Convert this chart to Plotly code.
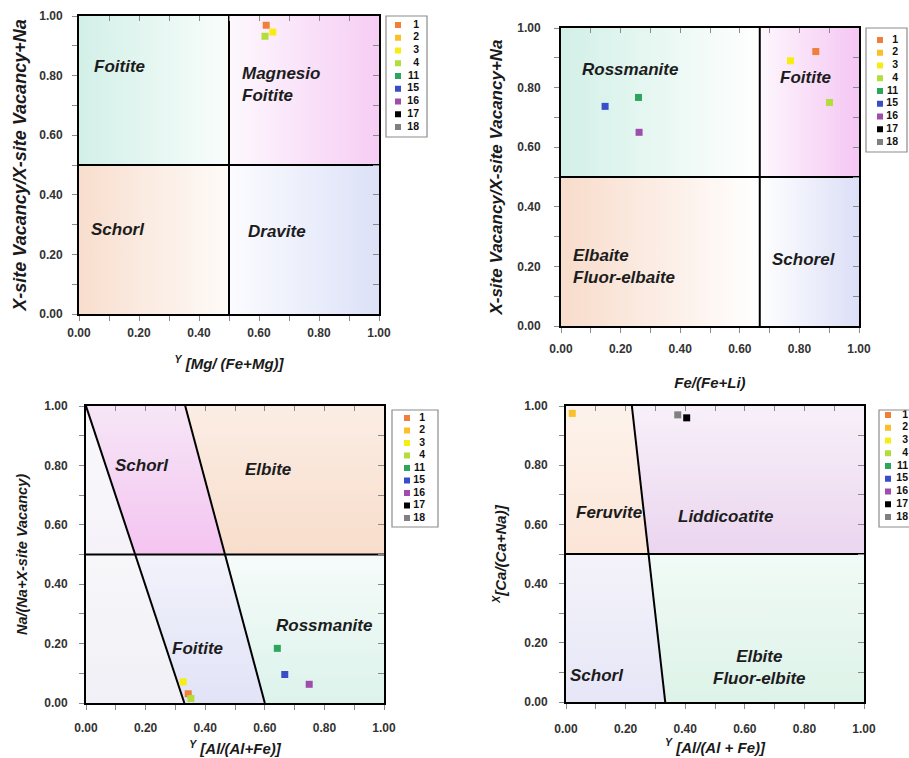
import plotly.graph_objects as go

W, H = 909, 758
FONT = "Liberation Sans, Arial, sans-serif"

# ---------------- data ----------------
samples = ["1", "2", "3", "4", "11", "15", "16", "17", "18"]
sample_colors = ["#F07F3A", "#FBBF2A", "#F6EE12", "#B3DD3A", "#2DA55A",
                 "#3A4DC8", "#9F4CAA", "#000000", "#808080"]

# Panel 1: Y[Mg/(Fe+Mg)] vs X-site vacancy/(X-site vacancy+Na)
p1_samples = ["1", "3", "4"]
p1_x = [0.624, 0.646, 0.620]
p1_y = [0.969, 0.946, 0.932]

# Panel 2: Fe/(Fe+Li) vs X-site vacancy/(X-site vacancy+Na)
p2_samples = ["1", "3", "4", "11", "15", "16"]
p2_x = [0.855, 0.770, 0.901, 0.260, 0.148, 0.262]
p2_y = [0.921, 0.890, 0.750, 0.767, 0.737, 0.650]

# Panel 3: Y[Al/(Al+Fe)] vs Na/(Na+X-site vacancy)
p3_samples = ["3", "1", "4", "11", "15", "16"]
p3_x = [0.326, 0.343, 0.352, 0.642, 0.667, 0.749]
p3_y = [0.071, 0.031, 0.015, 0.184, 0.096, 0.063]

# Panel 4: Y[Al/(Al+Fe)] vs X[Ca/(Ca+Na)]
p4_samples = ["2", "18", "17"]
p4_x = [0.021, 0.375, 0.405]
p4_y = [0.975, 0.970, 0.960]

tick_vals = [0.0, 0.2, 0.4, 0.6, 0.8, 1.0]
tick_text = ["0.00", "0.20", "0.40", "0.60", "0.80", "1.00"]

# field boundaries
p1_vx, p1_hy = 0.5, 0.5
p2_vx, p2_hy = 0.667, 0.5
p3_l1_top, p3_l1_bot = 0.0, 0.33
p3_l2_top, p3_l2_bot = 0.333, 0.60
p3_hy = 0.5
p4_l_top, p4_l_bot = 0.221, 0.333
p4_hy = 0.5

color_of = dict(zip(samples, sample_colors))


def dom_x(a, b):
    return [a / W, b / W]


def dom_y(top, bottom):
    return [1 - bottom / H, 1 - top / H]


def slant(top, bot):
    return lambda y: top + (bot - top) * (1 - y)


fig = go.Figure()


def add_field(xa, ya, xs, ys, gtype, c0, c1):
    fig.add_trace(go.Scatter(
        x=xs + [xs[0]], y=ys + [ys[0]], mode="lines", line=dict(width=0),
        fill="toself",
        fillgradient=dict(type=gtype, colorscale=[[0, c0], [1, c1]]),
        hoverinfo="skip", showlegend=False, xaxis=xa, yaxis=ya))


def add_line(xa, ya, xs, ys):
    fig.add_trace(go.Scatter(
        x=xs, y=ys, mode="lines", line=dict(color="black", width=2),
        hoverinfo="skip", showlegend=False, xaxis=xa, yaxis=ya))


# ---- panel 1 fields
add_field("x", "y", [0, p1_vx, p1_vx, 0], [p1_hy, p1_hy, 1, 1], "horizontal", "#D2F0E7", "#F9FDFC")
add_field("x", "y", [p1_vx, 1, 1, p1_vx], [p1_hy, p1_hy, 1, 1], "horizontal", "#FDF8FE", "#F6CDF4")
add_field("x", "y", [0, p1_vx, p1_vx, 0], [0, 0, p1_hy, p1_hy], "horizontal", "#F8DECE", "#FEFBF8")
add_field("x", "y", [p1_vx, 1, 1, p1_vx], [0, 0, p1_hy, p1_hy], "horizontal", "#FCFCFF", "#DCE1F7")
add_line("x", "y", [p1_vx, p1_vx], [0, 1])
add_line("x", "y", [0, 1], [p1_hy, p1_hy])

# ---- panel 2 fields
add_field("x2", "y2", [0, p2_vx, p2_vx, 0], [p2_hy, p2_hy, 1, 1], "horizontal", "#D2F0E7", "#FFFFFF")
add_field("x2", "y2", [p2_vx, 1, 1, p2_vx], [p2_hy, p2_hy, 1, 1], "horizontal", "#FDF7FD", "#F5C6F3")
add_field("x2", "y2", [0, p2_vx, p2_vx, 0], [0, 0, p2_hy, p2_hy], "horizontal", "#F8DCCB", "#FFFFFF")
add_field("x2", "y2", [p2_vx, 1, 1, p2_vx], [0, 0, p2_hy, p2_hy], "horizontal", "#FFFFFF", "#DCDFF7")
add_line("x2", "y2", [p2_vx, p2_vx], [0, 1])
add_line("x2", "y2", [0, 1], [p2_hy, p2_hy])

# ---- panel 3 fields
f1 = slant(p3_l1_top, p3_l1_bot)
f2 = slant(p3_l2_top, p3_l2_bot)
h = p3_hy
add_field("x3", "y3", [f1(1), f1(h), 0, 0], [1, h, h, 1], "vertical", "#F5F3F9", "#F9F8FB")
add_field("x3", "y3", [f1(1), f2(1), f2(h), f1(h)], [1, 1, h, h], "vertical", "#F4C4F1", "#F6E6F6")
add_field("x3", "y3", [f2(1), 1, 1, f2(h)], [1, 1, h, h], "vertical", "#F8DDCB", "#FBEDE4")
add_field("x3", "y3", [0, f1(h), f1(0), 0], [h, h, 0, 0], "vertical", "#F0F0F6", "#F7F7FA")
add_field("x3", "y3", [f1(h), f2(h), f2(0), f1(0)], [h, h, 0, 0], "vertical", "#E2E3F7", "#F1F2FA")
add_field("x3", "y3", [f2(h), 1, 1, f2(0)], [h, h, 0, 0], "vertical", "#DCF3EB", "#F6FBFA")
add_line("x3", "y3", [f1(1), f1(0)], [1, 0])
add_line("x3", "y3", [f2(1), f2(0)], [1, 0])
add_line("x3", "y3", [0, 1], [h, h])

# ---- panel 4 fields
f4 = slant(p4_l_top, p4_l_bot)
h4 = p4_hy
add_field("x4", "y4", [0, f4(1), f4(h4), 0], [1, 1, h4, h4], "vertical", "#FBE5D7", "#FDF3EC")
add_field("x4", "y4", [f4(1), 1, 1, f4(h4)], [1, 1, h4, h4], "vertical", "#EBD5EF", "#F7F0F9")
add_field("x4", "y4", [0, f4(h4), f4(0), 0], [h4, h4, 0, 0], "vertical", "#E6E6F7", "#F4F3FA")
add_field("x4", "y4", [f4(h4), 1, 1, f4(0)], [h4, h4, 0, 0], "vertical", "#DDF3E8", "#F1FAF6")
add_line("x4", "y4", [f4(1), f4(0)], [1, 0])
add_line("x4", "y4", [0, 1], [h4, h4])

# ---- data points
for xa, ya, ss, xs, ys in [("x", "y", p1_samples, p1_x, p1_y),
                           ("x2", "y2", p2_samples, p2_x, p2_y),
                           ("x3", "y3", p3_samples, p3_x, p3_y),
                           ("x4", "y4", p4_samples, p4_x, p4_y)]:
    fig.add_trace(go.Scatter(
        x=xs, y=ys, mode="markers", text=ss,
        marker=dict(symbol="square", size=7, color=[color_of[s] for s in ss]),
        hovertemplate="Sample %{text}<br>%{x:.2f}, %{y:.2f}<extra></extra>",
        showlegend=False, xaxis=xa, yaxis=ya))

# ---- panel layout (pixel boxes)
panels = [
    dict(n="", box=(79, 379, 16, 314),
         xtitle="<sup>Y</sup> [Mg/ (Fe+Mg)]", xts=15, xls=2, xst=19,
         ytitle="X-site Vacancy/X-site Vacancy+Na", yts=18, yls=7, yst=8,
         leg=(386, 427, 16, 137, 25, 127, 398, 419)),
    dict(n="2", box=(561, 859, 28, 326),
         xtitle="Fe/(Fe+Li)", xts=15, xls=6, xst=22,
         ytitle="X-site Vacancy/X-site Vacancy+Na", yts=17, yls=11, yst=10,
         leg=(866, 907, 28, 152, 40, 142, 880, 898)),
    dict(n="3", box=(86, 384, 406, 703),
         xtitle="<sup>Y</sup> [Al/(Al+Fe)]", xts=15, xls=8, xst=9,
         ytitle="Na/(Na+X-site Vacancy)", yts=14.5, yls=9, yst=13,
         leg=(392, 438, 410, 527, 418, 518, 407, 425)),
    dict(n="4", box=(566, 864, 406, 702),
         xtitle="<sup>Y</sup> [Al/(Al + Fe)]", xts=15, xls=10, xst=6,
         ytitle="<sup>X</sup>[Ca/(Ca+Na)]", yts=15, yls=9, yst=14,
         leg=(879, 922, 410, 527, 415, 517, 888, 908)),
]

title_font = dict(family=FONT, color="#1a1a1a", weight="bold", style="italic")
tick_font = dict(family=FONT, size=12, color="#333333", weight="bold")

layout = {}
shapes = []
for i, p in enumerate(panels):
    n = p["n"]
    x0, x1, y0, y1 = p["box"]
    common = dict(range=[0, 1], showgrid=False, zeroline=False, automargin=False,
                  showline=True, linecolor="black", linewidth=2, mirror=True,
                  ticks="outside", ticklen=5, tickcolor="#8a8a8a", tickwidth=1,
                  tickvals=tick_vals, ticktext=tick_text, tickfont=tick_font,
                  minor=dict(dtick=0.1, ticks="outside", ticklen=5, tickcolor="#8a8a8a"),
                  fixedrange=True)
    layout["xaxis" + n] = dict(common, domain=dom_x(x0, x1), anchor="y" + n,
                               ticklabelstandoff=p["xls"],
                               title=dict(text=p["xtitle"], standoff=p["xst"],
                                          font=dict(title_font, size=p["xts"])))
    layout["yaxis" + n] = dict(common, domain=dom_y(y0, y1), anchor="x" + n,
                               ticklabelstandoff=p["yls"],
                               title=dict(text=p["ytitle"], standoff=p["yst"],
                                          font=dict(title_font, size=p["yts"])))
    # inner ticks on top / right sides
    k = str(9 + i)
    layout["xaxis" + k] = dict(range=[0, 1], overlaying="x" + n, anchor="y" + n, side="top",
                               showgrid=False, zeroline=False, showline=False, automargin=False,
                               ticks="inside", ticklen=5, tickcolor="#8a8a8a",
                               dtick=0.1, tick0=0, showticklabels=False, fixedrange=True)
    layout["yaxis" + k] = dict(range=[0, 1], overlaying="y" + n, anchor="x" + n, side="right",
                               showgrid=False, zeroline=False, showline=False, automargin=False,
                               ticks="inside", ticklen=6, tickcolor="#8a8a8a",
                               dtick=0.1, tick0=0, showticklabels=False, fixedrange=True)
    fig.add_trace(go.Scatter(x=[None], y=[None], xaxis="x" + k, yaxis="y" + n,
                             showlegend=False, hoverinfo="skip"))
    fig.add_trace(go.Scatter(x=[None], y=[None], xaxis="x" + n, yaxis="y" + k,
                             showlegend=False, hoverinfo="skip"))

    # custom legend box
    lx0, lx1, ly0, ly1, first, last, mx, tx = p["leg"]
    step = (last - first) / (len(samples) - 1)
    lk = str(5 + i)
    dx1 = min(lx1, W)
    layout["xaxis" + lk] = dict(domain=dom_x(lx0, dx1), range=[0, dx1 - lx0], visible=False,
                                anchor="y" + lk, fixedrange=True, automargin=False)
    layout["yaxis" + lk] = dict(domain=dom_y(ly0, ly1),
                                range=[(ly1 - first) / step, -(first - ly0) / step],
                                visible=False, anchor="x" + lk, fixedrange=True, automargin=False)
    idx = list(range(len(samples)))
    fig.add_trace(go.Scatter(
        x=[mx - lx0] * len(samples), y=idx, mode="markers",
        marker=dict(symbol="square", size=6, color=sample_colors),
        hoverinfo="skip", showlegend=False, cliponaxis=False,
        xaxis="x" + lk, yaxis="y" + lk))
    fig.add_trace(go.Scatter(
        x=[tx - lx0] * len(samples), y=idx, mode="text", text=samples,
        textposition="middle left",
        textfont=dict(family=FONT, size=10.5, color="#111111", weight="bold"),
        hoverinfo="skip", showlegend=False, cliponaxis=False,
        xaxis="x" + lk, yaxis="y" + lk))
    shapes.append(dict(type="rect", xref="paper", yref="paper",
                       x0=lx0 / W, x1=lx1 / W, y0=1 - ly1 / H, y1=1 - ly0 / H,
                       line=dict(color="#8c8c8c", width=1.2), fillcolor="rgba(0,0,0,0)"))

# ---- field names
label_font = dict(family=FONT, size=17, color="#1c1c1c", weight="bold", style="italic")
field_labels = [
    ("x", "y", "Foitite", 0.136, 0.829, "center"),
    ("x", "y", "Magnesio<br>Foitite", 0.537, 0.770, "left"),
    ("x", "y", "Schorl", 0.130, 0.282, "center"),
    ("x", "y", "Dravite", 0.659, 0.277, "center"),
    ("x2", "y2", "Rossmanite", 0.230, 0.860, "center"),
    ("x2", "y2", "Foitite", 0.821, 0.834, "center"),
    ("x2", "y2", "Elbaite<br>Fluor-elbaite", 0.033, 0.200, "left"),
    ("x2", "y2", "Schorel", 0.816, 0.222, "center"),
    ("x3", "y3", "Schorl", 0.189, 0.801, "center"),
    ("x3", "y3", "Elbite", 0.611, 0.787, "center"),
    ("x3", "y3", "Rossmanite", 0.798, 0.262, "center"),
    ("x3", "y3", "Foitite", 0.374, 0.183, "center"),
    ("x4", "y4", "Feruvite", 0.143, 0.640, "center"),
    ("x4", "y4", "Liddicoatite", 0.535, 0.626, "center"),
    ("x4", "y4", "Schorl", 0.104, 0.089, "center"),
    ("x4", "y4", "Elbite<br>Fluor-elbite", 0.648, 0.115, "center"),
]
annotations = []
for xa, ya, txt, x, y, al in field_labels:
    annotations.append(dict(xref=xa, yref=ya, x=x, y=y, text=txt, showarrow=False,
                            xanchor="left" if al == "left" else "center",
                            align=al, font=label_font))

fig.update_layout(
    width=W, height=H, margin=dict(l=0, r=0, t=0, b=0),
    paper_bgcolor="white", plot_bgcolor="white",
    showlegend=False, shapes=shapes, annotations=annotations,
    **layout)

fig.write_html("out.html", config={"displayModeBar": False},
               post_script="document.body.style.margin='0';document.body.style.overflow='hidden';")
